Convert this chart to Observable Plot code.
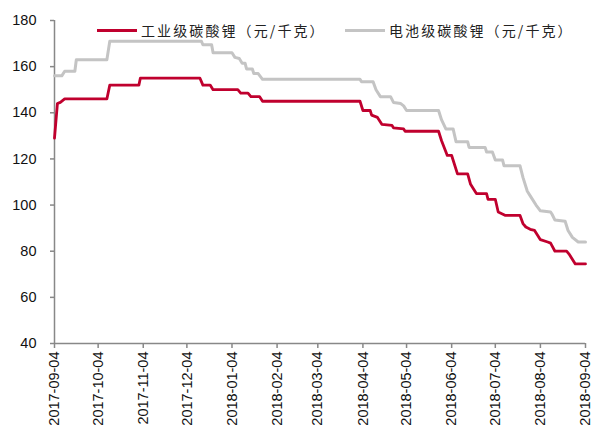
<!DOCTYPE html>
<html>
<head>
<meta charset="utf-8">
<script src="https://cdn.jsdelivr.net/npm/d3@7"></script>
<script src="https://cdn.jsdelivr.net/npm/@observablehq/plot@0.6"></script>
<style>
  html, body { margin: 0; padding: 0; background: #fff; }
  #wrap { position: relative; width: 592px; height: 439px; }
  .legend { position: absolute; top: 20px; font-family: "Noto Sans CJK SC", sans-serif; font-size: 14px; letter-spacing: 2.1px; color: #222; display: flex; align-items: center; white-space: nowrap; }
  .legend .sw { display: inline-block; width: 40px; height: 3px; margin-right: 4px; }
</style>
</head>
<body>
<div id="wrap"></div>
<script>
const seriesNames = ["工业级碳酸锂（元/千克）", "电池级碳酸锂（元/千克）"];
const seriesColors = ["#C0002E", "#C4C4C4"];

const redDates = ["2017-09-04","2017-09-06","2017-09-08","2017-09-11","2017-10-10","2017-10-12","2017-11-01","2017-11-02","2017-12-13","2017-12-15","2017-12-20","2017-12-22","2018-01-08","2018-01-10","2018-01-15","2018-01-17","2018-01-23","2018-01-25","2018-04-02","2018-04-04","2018-04-09","2018-04-10","2018-04-14","2018-04-17","2018-04-24","2018-04-25","2018-05-02","2018-05-03","2018-05-26","2018-05-28","2018-06-01","2018-06-04","2018-06-08","2018-06-15","2018-06-17","2018-06-21","2018-06-28","2018-06-29","2018-07-04","2018-07-06","2018-07-11","2018-07-21","2018-07-23","2018-07-25","2018-07-28","2018-07-31","2018-08-04","2018-08-09","2018-08-11","2018-08-14","2018-08-22","2018-08-24","2018-08-28","2018-09-04"];
const redValues = [129,144,144.5,146,146,152,152,155,155,152,152,150,150,148.5,148.5,147,147,145,145,141,141,139,138,135,134.5,133.5,133,132,132,128,121.5,121.5,113.5,113.5,109,105,105,102.5,102.5,97,95.5,95.5,92,90.5,89.5,89,85,84,83.5,80,80,78.5,74.5,74.5];

const grayDates = ["2017-09-04","2017-09-09","2017-09-11","2017-09-18","2017-09-19","2017-10-10","2017-10-12","2017-12-14","2017-12-15","2017-12-21","2017-12-22","2018-01-04","2018-01-06","2018-01-09","2018-01-11","2018-01-13","2018-01-14","2018-01-18","2018-01-19","2018-01-22","2018-01-25","2018-04-02","2018-04-03","2018-04-11","2018-04-13","2018-04-16","2018-04-23","2018-04-25","2018-04-30","2018-05-02","2018-05-04","2018-05-26","2018-05-28","2018-05-31","2018-06-05","2018-06-07","2018-06-15","2018-06-16","2018-06-27","2018-06-28","2018-07-02","2018-07-04","2018-07-09","2018-07-10","2018-07-21","2018-07-23","2018-07-26","2018-07-28","2018-08-01","2018-08-04","2018-08-11","2018-08-12","2018-08-14","2018-08-21","2018-08-23","2018-08-26","2018-08-30","2018-09-04"];
const grayValues = [156,156,158,158,163,163,171,171,169.5,169.5,166,166,164,163.5,161.5,161.5,159,159,157,157,154.5,154.5,153.5,153.5,150,147,147,144.5,144,143,141,141,137,133,133,127.5,127.5,125,125,123,123,119.5,119.5,117,117,112,106,104,100,97.5,97,96,93.5,93,89,86,84,84];

const xTicks = ["2017-09-04","2017-10-04","2017-11-04","2017-12-04","2018-01-04","2018-02-04","2018-03-04","2018-04-04","2018-05-04","2018-06-04","2018-07-04","2018-08-04","2018-09-04"];
const yTicks = [40,60,80,100,120,140,160,180];

const parse = d3.utcParse("%Y-%m-%d");
const rows = [
  ...redDates.map((d, i) => ({date: parse(d), value: redValues[i], series: seriesNames[0]})),
  ...grayDates.map((d, i) => ({date: parse(d), value: grayValues[i], series: seriesNames[1]}))
];

const chart = Plot.plot({
  width: 592,
  height: 439,
  marginLeft: 54,
  marginRight: 7,
  marginTop: 20,
  marginBottom: 96,
  style: {fontFamily: "'Liberation Sans', Arial, sans-serif", fontSize: "14.5px", color: "#111", background: "#fff"},
  x: {type: "utc", domain: [parse(xTicks[0]), parse(xTicks[xTicks.length - 1])], ticks: xTicks.map(parse), tickFormat: d3.utcFormat("%Y-%m-%d"), tickRotate: -90, tickSize: 5, tickPadding: 3, label: null},
  y: {domain: [40, 180], ticks: yTicks, tickSize: 4, tickPadding: 14, label: null},
  color: {domain: seriesNames, range: seriesColors},
  marks: [
    Plot.ruleX([parse(xTicks[0])], {stroke: "#888", strokeWidth: 1.5}),
    Plot.ruleY([40], {stroke: "#888", strokeWidth: 1.5}),
    Plot.line(rows.filter(r => r.series === seriesNames[1]), {x: "date", y: "value", stroke: "series", strokeWidth: 3}),
    Plot.line(rows.filter(r => r.series === seriesNames[0]), {x: "date", y: "value", stroke: "series", strokeWidth: 2.8})
  ]
});
d3.select(chart).selectAll("g[aria-label='x-axis tick'] path, g[aria-label='y-axis tick'] path").attr("stroke", "#888").attr("stroke-width", 1.5);
const wrap = document.getElementById("wrap");
wrap.appendChild(chart);

const legendPos = [97, 345];
seriesNames.forEach((name, i) => {
  const div = document.createElement("div");
  div.className = "legend";
  div.style.left = legendPos[i] + "px";
  const sw = document.createElement("span");
  sw.className = "sw";
  sw.style.background = seriesColors[i];
  div.appendChild(sw);
  const t = document.createElement("span");
  t.textContent = name;
  div.appendChild(t);
  wrap.appendChild(div);
});
</script>
</body>
</html>
